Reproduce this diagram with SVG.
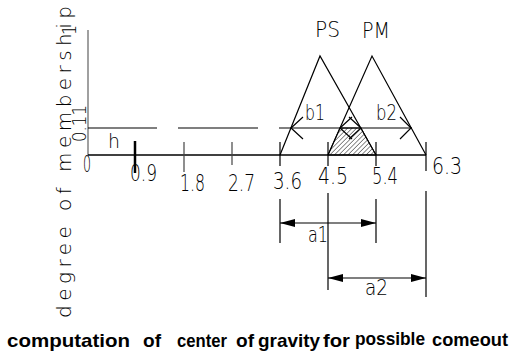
<svg xmlns="http://www.w3.org/2000/svg" width="512" height="359" viewBox="0 0 512 359">
<style>
.ln{stroke:#000;stroke-width:1.2;fill:none}
.t{font-family:"DejaVu Sans","Liberation Sans",sans-serif;font-weight:200;fill:#000}
.d{font-size:23px}
.cap{font-family:"Liberation Sans",Arial,sans-serif;font-weight:bold;font-size:19px;fill:#000}
</style>
<defs>
<pattern id="hatch" patternUnits="userSpaceOnUse" width="3.2" height="10" patternTransform="rotate(45)">
<line x1="0" y1="-1" x2="0" y2="11" stroke="#000" stroke-width="0.9"/>
</pattern>
<marker id="fa" viewBox="0 0 15 8" refX="15" refY="4" markerWidth="15" markerHeight="8" markerUnits="userSpaceOnUse" orient="auto-start-reverse">
<path d="M0,0 L15,4 L0,8 Z" fill="#000"/>
</marker>
</defs>
<rect width="512" height="359" fill="#fff"/>

<g id="axes">
<line x1="88" y1="30" x2="88" y2="155" stroke="#808080" stroke-width="1.5"/>
<line x1="88" y1="155" x2="426" y2="155" stroke="#000" stroke-width="1.5"/>
<line x1="88" y1="128" x2="157" y2="128" class="ln"/>
<line x1="178" y1="128" x2="258" y2="128" class="ln"/>
<line x1="279" y1="128" x2="412" y2="128" class="ln"/>
<line x1="135" y1="141" x2="135" y2="173" stroke="#000" stroke-width="2.5"/>
<line x1="184" y1="142" x2="184" y2="172" stroke="#444" stroke-width="1.2"/>
<line x1="232" y1="142" x2="232" y2="165" stroke="#444" stroke-width="1.2"/>
<line x1="280" y1="142" x2="280" y2="166" class="ln"/>
<line x1="328" y1="142" x2="328" y2="166" class="ln"/>
<line x1="376" y1="142" x2="376" y2="166" class="ln"/>
<line x1="426" y1="142" x2="426" y2="171" class="ln"/>
</g>

<g id="shaded-area">
<polygon points="328,155 340,128 361,128 376,155" fill="url(#hatch)" stroke="#000" stroke-width="1"/>
</g>

<g id="PS">
<polyline points="280,155 320,56 376,155" class="ln"/>
<text x="315" y="37" class="t" font-size="21" textLength="25" lengthAdjust="spacingAndGlyphs">PS</text>
</g>
<g id="PM">
<polyline points="328,155 372,56 426,155" class="ln"/>
<text x="362" y="38" class="t" font-size="21" textLength="28" lengthAdjust="spacingAndGlyphs">PM</text>
</g>

<g id="b-dimensions">
<polyline points="303,117 291,128 303,139" class="ln"/>
<polyline points="349,117 361,128 349,139" class="ln"/>
<polyline points="352,117 340,128 352,139" class="ln"/>
<polyline points="400,117 411,128 400,139" class="ln"/>
<text x="305" y="120" class="t" font-size="21" textLength="20" lengthAdjust="spacingAndGlyphs">b1</text>
<text x="376" y="120" class="t" font-size="21" textLength="21" lengthAdjust="spacingAndGlyphs">b2</text>
</g>

<g id="connectors">
<line x1="280" y1="199" x2="280" y2="243" class="ln"/>
<line x1="328" y1="193" x2="328" y2="290" class="ln"/>
<line x1="376" y1="199" x2="376" y2="243" class="ln"/>
<line x1="426" y1="191" x2="426" y2="297" class="ln"/>
<line x1="280" y1="223" x2="376" y2="223" class="ln" marker-start="url(#fa)" marker-end="url(#fa)"/>
<line x1="328" y1="278" x2="426" y2="278" class="ln" marker-start="url(#fa)" marker-end="url(#fa)"/>
<text x="308" y="242" class="t" font-size="21" textLength="20" lengthAdjust="spacingAndGlyphs">a1</text>
<text x="365" y="295" class="t" font-size="21" textLength="23" lengthAdjust="spacingAndGlyphs">a2</text>
</g>

<g id="labels">
<text x="108" y="148" class="t" font-size="20" textLength="12" lengthAdjust="spacingAndGlyphs">h</text>
<text x="83" y="172" class="t d" textLength="8" lengthAdjust="spacingAndGlyphs">0</text>
<text x="130" y="181" class="t d" textLength="27" lengthAdjust="spacingAndGlyphs">0.9</text>
<text x="180" y="191" class="t d" textLength="25" lengthAdjust="spacingAndGlyphs">1.8</text>
<text x="228" y="191" class="t d" textLength="27" lengthAdjust="spacingAndGlyphs">2.7</text>
<text x="273" y="189" class="t d" textLength="29" lengthAdjust="spacingAndGlyphs">3.6</text>
<text x="318" y="184" class="t d" textLength="30" lengthAdjust="spacingAndGlyphs">4.5</text>
<text x="372" y="184" class="t d" textLength="26" lengthAdjust="spacingAndGlyphs">5.4</text>
<text x="432" y="174" class="t d" textLength="30" lengthAdjust="spacingAndGlyphs">6.3</text>
<text transform="translate(86,142) rotate(-90)" class="t" font-size="19" textLength="37" lengthAdjust="spacingAndGlyphs">0.11</text>
<text transform="translate(76,35) rotate(-90)" class="t" font-size="20" textLength="10" lengthAdjust="spacingAndGlyphs">1</text>
<text transform="translate(71,318) rotate(-90)" class="t" font-size="20" fill="#222" textLength="312" lengthAdjust="spacing">degree of membership</text>
</g>

<g id="caption">
<text x="7" y="347" class="cap" textLength="123" lengthAdjust="spacingAndGlyphs">computation</text>
<text x="143" y="347" class="cap" textLength="18" lengthAdjust="spacingAndGlyphs">of</text>
<text x="177" y="347" class="cap" textLength="50" lengthAdjust="spacingAndGlyphs">center</text>
<text x="236" y="347" class="cap" textLength="18" lengthAdjust="spacingAndGlyphs">of</text>
<text x="258" y="347" class="cap" textLength="62" lengthAdjust="spacingAndGlyphs">gravity</text>
<text x="323" y="347" class="cap" textLength="27" lengthAdjust="spacingAndGlyphs">for</text>
<text x="355" y="345" class="cap" textLength="70" lengthAdjust="spacingAndGlyphs">possible</text>
<text x="432" y="346" class="cap" textLength="76" lengthAdjust="spacingAndGlyphs">comeout</text>
</g>
</svg>
